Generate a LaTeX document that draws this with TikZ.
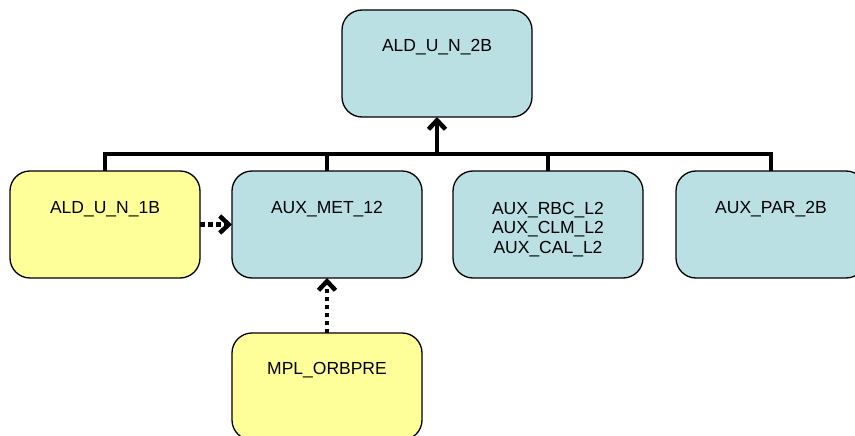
\documentclass[tikz,border=0pt]{standalone}
\usepackage{fontspec}
\setmainfont{Liberation Sans}
\usetikzlibrary{arrows.meta,calc}
\definecolor{boxblue}{RGB}{187,224,227}
\definecolor{boxyellow}{RGB}{255,255,153}
\begin{document}
\begin{tikzpicture}[x=1pt,y=-1pt,
  box/.style={draw=black,line width=1.3pt,rounded corners=20pt,minimum width=190pt,minimum height=107pt,anchor=north west,inner sep=0pt,outer sep=0pt},
  bluebox/.style={box,fill=boxblue},
  yellowbox/.style={box,fill=boxyellow},
  lbl/.style={font=\fontsize{17.5}{19.5}\selectfont,align=center,inner sep=0pt},
  bus/.style={line width=4.5pt},
  dotline/.style={line width=4.5pt,dash pattern=on 4.5pt off 3.5pt},
  barb/.style={-{Straight Barb[length=9pt,width=17pt,line width=4.5pt]}}
]
\useasboundingbox (0,0) rectangle (855,436);
\clip (0,0) rectangle (855,436);
% boxes
\node[bluebox] (top) at (342,10) {};
\node[yellowbox] (b1) at (10,171) {};
\node[bluebox] (b2) at (232,171) {};
\node[bluebox] (b3) at (453,171) {};
\node[bluebox] (b4) at (676,171) {};
\node[yellowbox] (b5) at (232,333) {};
% labels
\node[lbl] (ttop) at ($(top.north)+(0,37)$) {ALD\_U\_N\_2B};
\node[lbl] (t1) at ($(b1.north)+(0,38)$) {ALD\_U\_N\_1B};
\node[lbl] (t2) at ($(b2.north)+(0,38)$) {AUX\_MET\_12};
\node[lbl,anchor=north] (t3) at ($(b3.north)+(0,31)$) {AUX\_RBC\_L2\\AUX\_CLM\_L2\\AUX\_CAL\_L2};
\node[lbl] (t4) at ($(b4.north)+(0,38)$) {AUX\_PAR\_2B};
\node[lbl] (t5) at ($(b5.north)+(0,37)$) {MPL\_ORBPRE};
% bus
\coordinate (bus) at (437,154);
\draw[bus] (b1.north) |- (bus) -| (b4.north);
\draw[bus] (b2.north) -- (b2.north |- bus);
\draw[bus] (b3.north) -- (b3.north |- bus);
\draw[bus,barb] (bus) -- (top.south);
% dotted arrows
\draw[dotline,barb] (b1.east) -- (b2.west);
\draw[dotline,barb] (b5.north) -- (b2.south);
\end{tikzpicture}
\end{document}
